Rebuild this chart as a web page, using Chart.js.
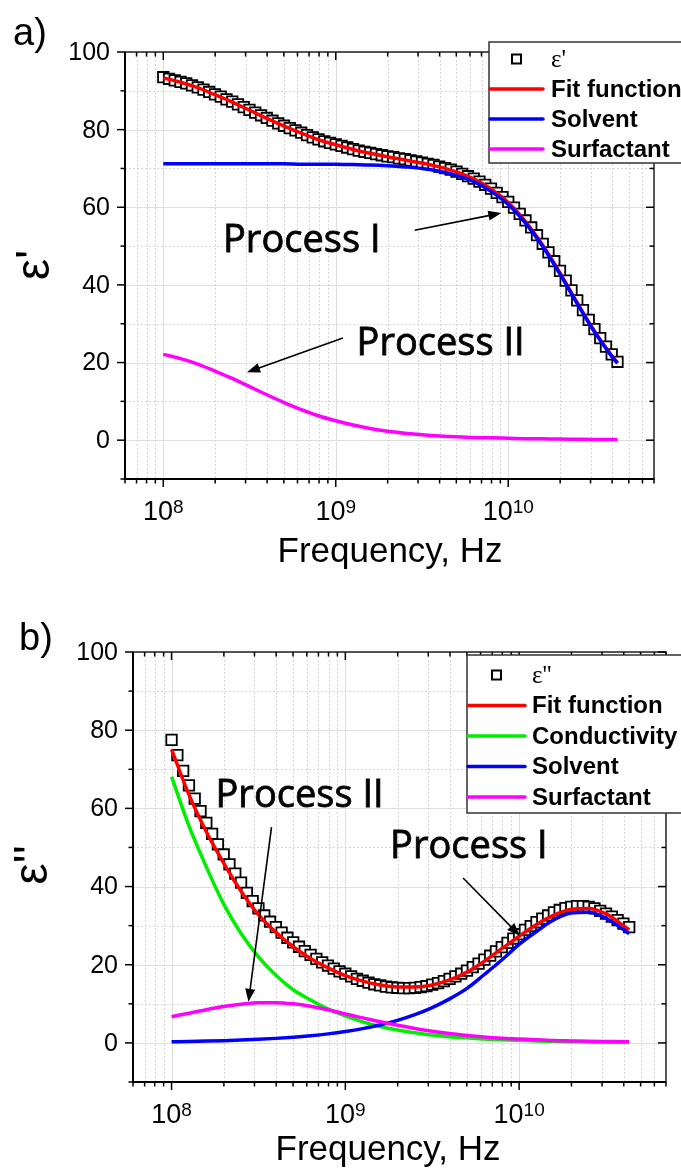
<!DOCTYPE html>
<html>
<head>
<meta charset="utf-8">
<script src="https://cdn.jsdelivr.net/npm/chart.js@4.4.0/dist/chart.umd.min.js"></script>
<style>
  html, body { margin: 0; padding: 0; background: #fff; }
  #wrap { position: relative; width: 681px; height: 1168px; overflow: hidden; }
  canvas { position: absolute; left: 0; }
  #c1 { top: 0; }
  #c2 { top: 580px; }
</style>
</head>
<body>
<div id="wrap">
  <canvas id="c1" width="681" height="580"></canvas>
  <canvas id="c2" width="681" height="588"></canvas>
</div>
<script>
// measured points (Hz)
const freq = [
  1.000e8, 1.080e8, 1.166e8, 1.259e8, 1.359e8, 1.468e8, 1.585e8, 1.711e8, 1.848e8, 1.995e8,
  2.154e8, 2.326e8, 2.512e8, 2.712e8, 2.929e8, 3.162e8, 3.415e8, 3.687e8, 3.981e8, 4.299e8,
  4.642e8, 5.012e8, 5.412e8, 5.843e8, 6.310e8, 6.813e8, 7.356e8, 7.943e8, 8.577e8, 9.261e8,
  1.000e9, 1.080e9, 1.166e9, 1.259e9, 1.359e9, 1.468e9, 1.585e9, 1.711e9, 1.848e9, 1.995e9,
  2.154e9, 2.326e9, 2.512e9, 2.712e9, 2.929e9, 3.162e9, 3.415e9, 3.687e9, 3.981e9, 4.299e9,
  4.642e9, 5.012e9, 5.412e9, 5.843e9, 6.310e9, 6.813e9, 7.356e9, 7.943e9, 8.577e9, 9.261e9,
  1.000e10, 1.080e10, 1.166e10, 1.259e10, 1.359e10, 1.468e10, 1.585e10, 1.711e10, 1.848e10, 1.995e10,
  2.154e10, 2.326e10, 2.512e10, 2.712e10, 2.929e10, 3.162e10, 3.415e10, 3.687e10, 3.981e10, 4.299e10
];
const epsReal = [
  93.5, 93.1, 92.7, 92.3, 91.9, 91.4, 90.9, 90.3, 89.7, 89.1,
  88.5, 87.8, 87.2, 86.5, 85.8, 85.1, 84.4, 83.7, 83.0, 82.3,
  81.6, 81.0, 80.4, 79.8, 79.2, 78.6, 78.0, 77.5, 77.0, 76.6,
  76.2, 75.8, 75.4, 75.0, 74.6, 74.3, 74.0, 73.7, 73.4, 73.1,
  72.9, 72.6, 72.4, 72.1, 71.8, 71.5, 71.2, 70.9, 70.5, 70.1,
  69.7, 69.2, 68.6, 68.0, 67.4, 66.6, 65.8, 64.8, 63.7, 62.6,
  61.4, 59.9, 58.3, 56.6, 54.8, 52.8, 50.6, 48.4, 46.1, 43.6,
  41.1, 38.6, 36.0, 33.5, 31.0, 28.6, 26.3, 24.1, 22.1, 20.2
];
const epsImag = [
  77.5, 73.6, 69.6, 65.9, 62.5, 59.3, 56.3, 53.5, 50.8, 48.2,
  45.7, 43.3, 41.0, 38.4, 36.3, 34.4, 32.6, 31.0, 29.6, 28.2,
  26.9, 25.7, 24.6, 23.5, 22.5, 21.5, 20.6, 19.8, 19.0, 18.3,
  17.7, 17.0, 16.4, 15.9, 15.4, 15.0, 14.7, 14.4, 14.2, 14.1,
  14.0, 14.0, 14.1, 14.3, 14.5, 14.9, 15.3, 15.8, 16.4, 17.0,
  17.7, 18.5, 19.4, 20.3, 21.3, 22.3, 23.4, 24.5, 25.6, 26.7,
  27.8, 28.9, 29.9, 30.9, 31.8, 32.6, 33.4, 34.0, 34.5, 34.8,
  35.0, 35.0, 34.8, 34.4, 33.8, 33.1, 32.3, 31.4, 30.5, 29.6
];

// fit curves (Hz)
const fitFreq = [
  1.000e8, 1.259e8, 1.585e8, 1.995e8, 2.512e8, 3.162e8, 3.981e8, 5.012e8, 6.310e8, 7.943e8,
  1.000e9, 1.259e9, 1.585e9, 1.995e9, 2.512e9, 3.162e9, 3.981e9, 5.012e9, 6.310e9, 7.943e9,
  1.000e10, 1.259e10, 1.585e10, 1.995e10, 2.512e10, 3.162e10, 3.981e10, 4.299e10
];
const fitReal = [
  93.3, 92.2, 90.8, 89.0, 87.1, 85.0, 82.9, 80.9, 79.1, 77.4,
  76.1, 74.9, 73.9, 73.0, 72.2, 71.4, 70.4, 69.1, 67.3, 64.7,
  61.2, 56.3, 50.2, 43.1, 35.4, 28.1, 21.8, 20.0
];
const solventReal = [
  71.2, 71.2, 71.2, 71.2, 71.2, 71.2, 71.2, 71.2, 71.1, 71.1,
  71.1, 71.0, 70.9, 70.7, 70.4, 70.0, 69.3, 68.2, 66.6, 64.1,
  60.7, 55.9, 49.9, 42.8, 35.2, 27.9, 21.6, 19.8
];
const surfReal = [
  22.1, 21.0, 19.6, 17.8, 15.9, 13.8, 11.7, 9.7, 7.9, 6.3,
  5.0, 3.9, 3.0, 2.3, 1.8, 1.4, 1.1, 0.9, 0.7, 0.6,
  0.5, 0.4, 0.35, 0.3, 0.25, 0.2, 0.2, 0.2
];
const fitImag = [
  75.1, 63.5, 54.0, 46.0, 38.8, 32.8, 28.3, 24.6, 21.6, 19.2,
  17.2, 15.8, 14.8, 14.3, 14.3, 14.8, 16.1, 18.1, 20.9, 24.1,
  27.3, 30.3, 32.7, 34.2, 34.4, 33.0, 30.0, 28.9
];
const condImag = [
  68.1, 55.5, 45.0, 35.5, 28.0, 22.0, 17.3, 13.6, 11.0, 8.7,
  6.9, 5.4, 4.2, 3.3, 2.6, 2.0, 1.6, 1.3, 1.0, 0.8,
  0.65, 0.5, 0.4, 0.3, 0.25, 0.2, 0.15, 0.15
];
const solventImag = [
  0.3, 0.37, 0.46, 0.58, 0.73, 0.92, 1.16, 1.46, 1.84, 2.31,
  2.91, 3.66, 4.60, 5.77, 7.23, 9.04, 11.26, 13.94, 17.5, 21.2,
  25.2, 28.5, 31.5, 33.2, 33.4, 31.9, 29.0, 27.9
];
const surfImag = [
  6.7, 7.6, 8.5, 9.3, 9.9, 10.3, 10.3, 10.0, 9.4, 8.5,
  7.4, 6.4, 5.4, 4.5, 3.7, 3.0, 2.4, 1.9, 1.5, 1.2,
  1.0, 0.8, 0.6, 0.5, 0.4, 0.35, 0.3, 0.3
];

// axes
const yMajor = [0, 20, 40, 60, 80, 100];
const yMinor = [-10, 10, 30, 50, 70, 90];
const xDecades = [1e8, 1e9, 1e10];
const xExponents = ['8', '9', '10'];
const minorDecades = [1e7, 1e8, 1e9, 1e10];
const minorSteps = [2, 3, 4, 5, 6, 7, 8, 9];

const pts = (xs, ys) => xs.map((x, i) => ({ x: x, y: ys[i] }));

function dataSet(label, ys) {
  return {
    label: label, data: pts(freq, ys), showLine: false, order: 10,
    pointStyle: 'rect', pointRadius: 7.4, pointBorderWidth: 1.8,
    pointBorderColor: '#000', pointBackgroundColor: '#fff'
  };
}
function lineSet(label, ys, color, order) {
  return {
    label: label, data: pts(fitFreq, ys), borderColor: color, borderWidth: 3.5,
    pointRadius: 0, cubicInterpolationMode: 'monotone', order: order
  };
}

function arrow(ctx, x1, y1, x2, y2) {
  const ang = Math.atan2(y2 - y1, x2 - x1), len = 13, hw = 5;
  ctx.beginPath();
  ctx.moveTo(x1, y1);
  ctx.lineTo(x2 - Math.cos(ang) * len * 0.8, y2 - Math.sin(ang) * len * 0.8);
  ctx.stroke();
  ctx.beginPath();
  ctx.moveTo(x2, y2);
  ctx.lineTo(x2 - Math.cos(ang) * len - Math.sin(ang) * hw, y2 - Math.sin(ang) * len + Math.cos(ang) * hw);
  ctx.lineTo(x2 - Math.cos(ang) * len + Math.sin(ang) * hw, y2 - Math.sin(ang) * len - Math.cos(ang) * hw);
  ctx.closePath();
  ctx.fill();
}

// grid, frame, labels, notes and legend drawn around the chart area
const decor = {
  id: 'decor',
  beforeDatasetsDraw(chart) {
    const { ctx, chartArea: a, scales: { x, y } } = chart;
    ctx.save();
    ctx.beginPath();
    ctx.rect(a.left, a.top, a.right - a.left, a.bottom - a.top);
    ctx.clip();
    ctx.lineWidth = 1;
    ctx.strokeStyle = '#d6d6d6';
    ctx.setLineDash([2, 2]);
    minorDecades.forEach(d => minorSteps.forEach(m => {
      const px = Math.round(x.getPixelForValue(d * m)) + 0.5;
      ctx.beginPath(); ctx.moveTo(px, a.top); ctx.lineTo(px, a.bottom); ctx.stroke();
    }));
    yMinor.forEach(v => {
      const py = Math.round(y.getPixelForValue(v)) + 0.5;
      ctx.beginPath(); ctx.moveTo(a.left, py); ctx.lineTo(a.right, py); ctx.stroke();
    });
    ctx.setLineDash([]);
    ctx.strokeStyle = '#dedede';
    xDecades.forEach(v => {
      const px = Math.round(x.getPixelForValue(v)) + 0.5;
      ctx.beginPath(); ctx.moveTo(px, a.top); ctx.lineTo(px, a.bottom); ctx.stroke();
    });
    yMajor.forEach(v => {
      const py = Math.round(y.getPixelForValue(v)) + 0.5;
      ctx.beginPath(); ctx.moveTo(a.left, py); ctx.lineTo(a.right, py); ctx.stroke();
    });
    ctx.restore();
  },
  afterDatasetsDraw(chart, args, o) {
    const { ctx, chartArea: a, scales: { x, y } } = chart;
    ctx.save();
    // frame
    ctx.strokeStyle = '#222';
    ctx.lineWidth = 1.5;
    ctx.strokeRect(a.left, a.top, a.right - a.left, a.bottom - a.top);
    ctx.strokeStyle = '#000';
    ctx.lineWidth = 2;
    ctx.beginPath();
    ctx.moveTo(a.left, a.top); ctx.lineTo(a.left, a.bottom); ctx.lineTo(a.right, a.bottom);
    ctx.stroke();
    // ticks
    ctx.lineWidth = 1.5;
    ctx.strokeStyle = '#000';
    const xt = [];
    xDecades.forEach(v => xt.push([v, 8]));
    minorDecades.forEach(d => minorSteps.forEach(m => xt.push([d * m, 4.5])));
    xt.forEach(([v, len]) => {
      if (v < x.min || v > x.max) return;
      const px = x.getPixelForValue(v);
      ctx.beginPath(); ctx.moveTo(px, a.bottom); ctx.lineTo(px, a.bottom + len); ctx.stroke();
      ctx.beginPath(); ctx.moveTo(px, a.top); ctx.lineTo(px, a.top + len); ctx.stroke();
    });
    const yt = yMajor.map(v => [v, 8]).concat(yMinor.map(v => [v, 4.5]));
    yt.forEach(([v, len]) => {
      const py = y.getPixelForValue(v);
      ctx.beginPath(); ctx.moveTo(a.left, py); ctx.lineTo(a.left - len, py); ctx.stroke();
      ctx.beginPath(); ctx.moveTo(a.right, py); ctx.lineTo(a.right - len, py); ctx.stroke();
    });
    // tick labels
    ctx.fillStyle = '#000';
    ctx.font = '25px "Liberation Sans", Arial, sans-serif';
    ctx.textAlign = 'right';
    ctx.textBaseline = 'middle';
    yMajor.forEach(v => ctx.fillText(String(v), a.left - 15, y.getPixelForValue(v) + 1));
    ctx.textBaseline = 'alphabetic';
    ctx.textAlign = 'left';
    xDecades.forEach((v, i) => {
      const px = x.getPixelForValue(v), base = a.bottom + 41;
      ctx.font = '27px "Liberation Sans", Arial, sans-serif';
      const w1 = ctx.measureText('10').width;
      ctx.font = '19px "Liberation Sans", Arial, sans-serif';
      const w2 = ctx.measureText(xExponents[i]).width;
      const x0 = px - (w1 + w2) / 2;
      ctx.font = '27px "Liberation Sans", Arial, sans-serif';
      ctx.fillText('10', x0, base);
      ctx.font = '19px "Liberation Sans", Arial, sans-serif';
      ctx.fillText(xExponents[i], x0 + w1, base - 7);
    });
    // axis titles
    ctx.font = '35px "Liberation Sans", Arial, sans-serif';
    ctx.textAlign = 'center';
    ctx.fillText('Frequency, Hz', o.xTitleX, a.bottom + o.xTitleDy);
    ctx.save();
    ctx.translate(o.yTitle.x, o.yTitle.y);
    ctx.rotate(-Math.PI / 2);
    ctx.font = '48px "Liberation Sans", Arial, sans-serif';
    ctx.textBaseline = 'middle';
    ctx.fillText(o.yTitle.text, 0, 0);
    ctx.restore();
    // panel letter
    ctx.font = '38px "Liberation Sans", Arial, sans-serif';
    ctx.textAlign = 'left';
    ctx.fillText(o.panel.text, o.panel.x, o.panel.y);
    // annotations (slightly heavier than regular)
    ctx.font = '38px "Open Sans", "Noto Sans", sans-serif';
    ctx.strokeStyle = '#000';
    ctx.lineWidth = 0.8;
    o.notes.forEach(n => {
      const px = x.getPixelForValue(n.x), py = y.getPixelForValue(n.y);
      ctx.fillText(n.text, px, py);
      ctx.strokeText(n.text, px, py);
    });
    ctx.lineWidth = 1.6;
    o.arrows.forEach(r => arrow(ctx,
      x.getPixelForValue(r.from[0]), y.getPixelForValue(r.from[1]),
      x.getPixelForValue(r.to[0]), y.getPixelForValue(r.to[1])));
    // legend
    const L = o.legend, ds = chart.data.datasets;
    ctx.fillStyle = '#fff';
    ctx.fillRect(L.x, L.y, L.w, L.h);
    ctx.strokeStyle = '#333';
    ctx.lineWidth = 1.5;
    ctx.strokeRect(L.x, L.y, L.w, L.h);
    ds.forEach((d, i) => {
      const ry = L.row0 + i * L.step;
      if (d.showLine === false) {
        ctx.strokeStyle = '#000';
        ctx.lineWidth = 2;
        ctx.strokeRect((L.s0 + L.s1) / 2 - 4.5, ry - 4.5, 9, 9);
        ctx.font = '25px "Liberation Serif", "Times New Roman", serif';
      } else {
        ctx.strokeStyle = d.borderColor;
        ctx.lineWidth = 3.5;
        ctx.lineCap = 'round';
        ctx.beginPath(); ctx.moveTo(L.s0, ry); ctx.lineTo(L.s1, ry); ctx.stroke();
        ctx.lineCap = 'butt';
        ctx.font = 'bold 24px "Liberation Sans", Arial, sans-serif';
      }
      ctx.fillStyle = '#000';
      ctx.textBaseline = 'middle';
      ctx.fillText(d.label, L.tx, ry + 1);
    });
    ctx.restore();
  }
};

function makeChart(id, datasets, pad, opts) {
  return new Chart(document.getElementById(id), {
    type: 'line',
    data: { datasets: datasets },
    plugins: [decor],
    options: {
      responsive: false,
      animation: false,
      devicePixelRatio: 1,
      layout: { padding: pad },
      plugins: { legend: { display: false }, tooltip: { enabled: false }, decor: opts },
      scales: {
        x: {
          type: 'logarithmic', min: 6e7, max: 7e10,
          ticks: { display: false }, grid: { display: false }, border: { display: false },
          afterFit: s => { s.height = 0; }
        },
        y: {
          type: 'linear', min: -10, max: 100,
          ticks: { display: false }, grid: { display: false }, border: { display: false },
          afterFit: s => { s.width = 0; }
        }
      }
    }
  });
}

makeChart('c1', [
  dataSet("ε'", epsReal),
  lineSet('Fit function', fitReal, '#ff0000', 4),
  lineSet('Solvent', solventReal, '#0000ff', 2),
  lineSet('Surfactant', surfReal, '#ff00ff', 1)
], { left: 125, top: 52, right: 27, bottom: 101 }, {
  panel: { text: 'a)', x: 13, y: 45 },
  xTitleX: 390, xTitleDy: 83,
  yTitle: { text: "ε'", x: 36, y: 265 },
  notes: [
    { text: 'Process I', x: 2.22e8, y: 48.5 },
    { text: 'Process II', x: 1.32e9, y: 21.9 }
  ],
  arrows: [
    { from: [2.87e9, 54.1], to: [9.12e9, 58.5] },
    { from: [1.10e9, 26.3], to: [3.06e8, 17.5] }
  ],
  legend: { x: 489, y: 42, w: 200, h: 121, row0: 59, step: 30, s0: 490, s1: 543, tx: 551 }
});

makeChart('c2', [
  dataSet("ε''", epsImag),
  lineSet('Fit function', fitImag, '#ff0000', 4),
  lineSet('Conductivity', condImag, '#00ee00', 3),
  lineSet('Solvent', solventImag, '#0000ff', 2),
  lineSet('Surfactant', surfImag, '#ff00ff', 1)
], { left: 133, top: 72, right: 15, bottom: 86 }, {
  panel: { text: 'b)', x: 19, y: 70 },
  xTitleX: 388, xTitleDy: 78,
  yTitle: { text: "ε''", x: 34, y: 285 },
  notes: [
    { text: 'Process II', x: 1.79e8, y: 60.4 },
    { text: 'Process I', x: 1.81e9, y: 47.3 }
  ],
  arrows: [
    { from: [3.76e8, 55.2], to: [2.77e8, 10.5] },
    { from: [4.76e9, 42.2], to: [1.01e10, 27.4] }
  ],
  legend: { x: 467, y: 75, w: 220, h: 158, row0: 95, step: 30.5, s0: 468, s1: 525, tx: 532 }
});
</script>
</body>
</html>
